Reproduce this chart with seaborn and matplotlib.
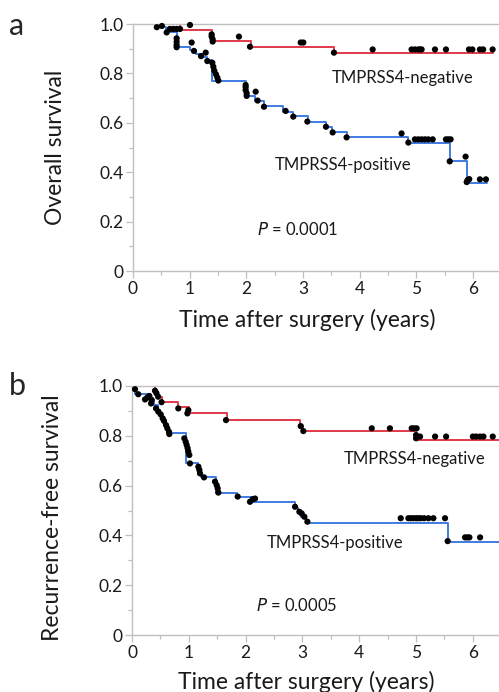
import seaborn as sns
import matplotlib.pyplot as plt
import pandas as pd
from matplotlib.ticker import MultipleLocator

# ---- panel a: overall survival ----
a_neg_t = [0, 0.83, 1.39, 2.08, 3.55, 6.36]
a_neg_s = [1.0, 0.976, 0.932, 0.908, 0.884, 0.884]
a_pos_t = [0, 0.42, 0.59, 0.77, 1.0, 1.12, 1.24, 1.31, 1.39, 1.99, 2.16, 2.31,
           2.65, 2.82, 3.08, 3.41, 3.52, 3.77, 4.86, 5.59, 5.89, 6.24]
a_pos_s = [1.0, 0.987, 0.969, 0.906, 0.895, 0.879, 0.865, 0.854, 0.769, 0.709,
           0.689, 0.668, 0.645, 0.627, 0.605, 0.582, 0.564, 0.544, 0.519,
           0.444, 0.355, 0.355]

a_dot_x = [0.42, 0.51, 0.65, 0.71, 0.77, 0.83, 1.006, 1.388, 1.388, 1.406,
           1.406, 1.87, 2.065, 2.96, 3.006, 3.547, 4.23, 4.917, 4.976, 5.035,
           5.065, 5.094, 5.33, 5.524, 5.93, 5.99, 6.123, 6.18, 6.347,
           0.594, 0.77, 0.77, 0.77, 0.77, 1.035, 1.076, 1.2, 1.283, 1.312,
           1.40, 1.418, 1.435, 1.465, 1.488, 1.506, 1.988, 1.988, 1.988, 2.006,
           2.006, 2.165, 2.2, 2.312, 2.694, 2.829, 3.077, 3.406, 3.524, 3.77,
           4.74, 4.86, 4.976, 5.035, 5.094, 5.153, 5.212, 5.29, 5.524, 5.565,
           5.606, 5.59, 5.87, 5.89, 5.906, 5.935, 6.123, 6.229]
a_dot_y = [0.987, 0.992, 0.98, 0.98, 0.98, 0.98, 0.996, 0.958, 0.949, 0.938,
           0.929, 0.949, 0.908, 0.925, 0.925, 0.884, 0.897, 0.897, 0.897, 0.897,
           0.897, 0.897, 0.897, 0.897, 0.897, 0.897, 0.897, 0.897, 0.897,
           0.966, 0.942, 0.928, 0.915, 0.906, 0.925, 0.891, 0.870, 0.884, 0.850,
           0.843, 0.827, 0.811, 0.796, 0.783, 0.771, 0.753, 0.744, 0.733, 0.720,
           0.709, 0.726, 0.690, 0.665, 0.648, 0.625, 0.605, 0.584, 0.561, 0.541,
           0.557, 0.520, 0.533, 0.533, 0.533, 0.533, 0.533, 0.533, 0.533, 0.533,
           0.533, 0.444, 0.463, 0.36, 0.368, 0.372, 0.371, 0.371]

# ---- panel b: recurrence-free survival ----
b_neg_t = [0, 0.405, 0.46, 0.52, 0.815, 1.01, 1.667, 2.96, 3.016, 5.0, 6.6]
b_neg_s = [1.0, 0.975, 0.955, 0.934, 0.914, 0.890, 0.863, 0.839, 0.819,
           0.783, 0.783]
b_pos_t = [0, 0.05, 0.32, 0.38, 0.45, 0.5, 0.55, 0.58, 0.62, 0.66, 0.945,
           1.168, 1.22, 1.479, 1.843, 2.137, 2.87, 2.93, 2.98, 3.06, 5.557, 6.6]
b_pos_s = [1.0, 0.967, 0.944, 0.925, 0.905, 0.885, 0.865, 0.845, 0.83, 0.81,
           0.689, 0.656, 0.633, 0.572, 0.556, 0.535, 0.51, 0.49, 0.473, 0.451,
           0.375, 0.375]

b_dot_x = [0.405, 0.43, 0.46, 0.52, 0.815, 0.992, 0.975, 1.655, 2.97, 3.016,
           4.22, 4.54, 4.923, 4.964, 5.01, 5.0, 5.0, 5.07, 5.335, 5.529, 6.0,
           6.057, 6.127, 6.186, 6.35,
           0.053, 0.11, 0.229, 0.27, 0.305, 0.335, 0.346, 0.423, 0.463, 0.505,
           0.54, 0.563, 0.599, 0.622, 0.651, 0.657, 0.921, 0.945, 0.962, 0.979,
           0.991, 1.009, 1.02, 1.168, 1.186, 1.197, 1.268, 1.461, 1.49, 1.508,
           1.52, 1.86, 2.077, 2.124, 2.165, 2.87, 2.946, 2.987, 3.034, 3.087,
           4.73, 4.865, 4.906, 4.953, 5.0, 5.04, 5.082, 5.141, 5.217, 5.305,
           5.51, 5.557, 5.863, 5.904, 5.939, 6.127]
b_dot_y = [0.981, 0.971, 0.957, 0.935, 0.910, 0.903, 0.890, 0.863, 0.839, 0.819,
           0.830, 0.830, 0.830, 0.830, 0.830, 0.803, 0.79, 0.797, 0.797, 0.797,
           0.797, 0.797, 0.797, 0.797, 0.797,
           0.987, 0.967, 0.946, 0.954, 0.96, 0.93, 0.944, 0.91, 0.897, 0.886,
           0.87, 0.86, 0.843, 0.83, 0.816, 0.807, 0.79, 0.776, 0.763, 0.75,
           0.737, 0.723, 0.689, 0.676, 0.663, 0.649, 0.633, 0.616, 0.602, 0.589,
           0.572, 0.556, 0.535, 0.545, 0.548, 0.515, 0.495, 0.488, 0.475, 0.455,
           0.469, 0.469, 0.469, 0.469, 0.469, 0.469, 0.469, 0.469, 0.469, 0.469,
           0.469, 0.377, 0.392, 0.392, 0.392, 0.392]

sns.set_style("ticks")
plt.rcParams['font.family'] = ['Lato', 'DejaVu Sans']

RED = '#e2394a'
BLUE = '#3f7be0'
GREY = '#bfbfbf'
TXT = '#1a1a1a'

fig = plt.figure(figsize=(4.99, 6.92), dpi=100)
ax_a = fig.add_axes([133/499, 1 - 271/692, 1 - 133/499, 247/692])
ax_b = fig.add_axes([132/499, 1 - 635/692, 1 - 132/499, 249/692])

panels = [
    (ax_a, a_neg_t, a_neg_s, a_pos_t, a_pos_s, a_dot_x, a_dot_y,
     'Overall survival', (4.76, 0.78), (3.7, 0.43), '0.0001', 0.166),
    (ax_b, b_neg_t, b_neg_s, b_pos_t, b_pos_s, b_dot_x, b_dot_y,
     'Recurrence-free survival', (4.98, 0.706), (3.57, 0.371), '0.0005', 0.12),
]

for (ax, nt, ns, pt, ps, dx, dy, ylab, neg_xy, pos_xy, pval, py) in panels:
    neg = pd.DataFrame({'t': nt, 's': ns})
    pos = pd.DataFrame({'t': pt, 's': ps})
    sns.lineplot(data=neg, x='t', y='s', drawstyle='steps-post', color=RED,
                 lw=1.4, estimator=None, sort=False, ax=ax)
    sns.lineplot(data=pos, x='t', y='s', drawstyle='steps-post', color=BLUE,
                 lw=1.4, estimator=None, sort=False, ax=ax)
    dots = pd.DataFrame({'t': dx, 's': dy})
    sns.scatterplot(data=dots, x='t', y='s', color='black', s=20,
                    edgecolor='none', clip_on=False, zorder=5, ax=ax)

    ax.set_xlim(0, 6.46)
    ax.set_ylim(0, 1.0)
    ax.xaxis.set_major_locator(MultipleLocator(1))
    ax.xaxis.set_minor_locator(MultipleLocator(0.5))
    ax.yaxis.set_minor_locator(MultipleLocator(0.1))
    ax.set_yticks([0, 0.2, 0.4, 0.6, 0.8, 1.0])
    ax.set_yticklabels(['0', '0.2', '0.4', '0.6', '0.8', '1.0'])
    ax.tick_params(which='major', length=5, width=0.9, color=GREY,
                   labelsize=12.5, labelcolor=TXT, pad=2)
    ax.tick_params(which='minor', length=3, width=0.9, color=GREY)
    for side in ['left', 'bottom', 'top']:
        ax.spines[side].set_color(GREY)
        ax.spines[side].set_linewidth(1.0)
    ax.spines['right'].set_visible(False)
    ax.spines['top'].set_visible(True)

    ax.set_ylabel(ylab, fontsize=16.5, color=TXT)
    ax.set_xlabel('Time after surgery (years)', fontsize=16.5, color=TXT)

    ax.text(neg_xy[0], neg_xy[1], 'TMPRSS4-negative', fontsize=12,
            ha='center', va='center', color=TXT)
    ax.text(pos_xy[0], pos_xy[1], 'TMPRSS4-positive', fontsize=12,
            ha='center', va='center', color=TXT)
    ax.text(2.9, py, r'$\it{P}$ = ' + pval, fontsize=12,
            ha='center', va='center', color=TXT)

ax_a.yaxis.set_label_coords(-0.183, 0.5)
ax_b.yaxis.set_label_coords(-0.188, 0.47)
ax_a.xaxis.set_label_coords(0.475, -0.155)
ax_b.xaxis.set_label_coords(0.475, -0.146)

fig.text(17/499, 1 - 26/692, 'a', fontsize=22, ha='center', va='center')
fig.text(17/499, 1 - 386/692, 'b', fontsize=22, ha='center', va='center')

fig.savefig('out.png', dpi=100)
